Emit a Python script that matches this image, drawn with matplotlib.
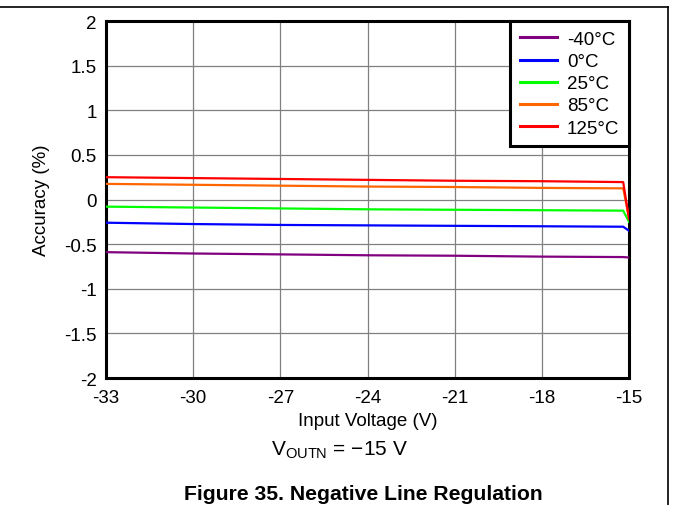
import matplotlib.pyplot as plt
from matplotlib.lines import Line2D

plt.rcParams['font.family'] = ['Liberation Sans', 'DejaVu Sans']

# input voltage (V)
volts = [-33, -30, -27, -24, -21, -18, -15.2, -15]
# accuracy (%) per temperature
acc_m40 = [-0.59, -0.605, -0.615, -0.625, -0.63, -0.64, -0.645, -0.65]
acc_0 = [-0.26, -0.275, -0.285, -0.29, -0.295, -0.30, -0.305, -0.35]
acc_25 = [-0.08, -0.09, -0.10, -0.11, -0.115, -0.12, -0.125, -0.25]
acc_85 = [0.175, 0.165, 0.155, 0.145, 0.14, 0.13, 0.125, -0.20]
acc_125 = [0.25, 0.24, 0.23, 0.22, 0.21, 0.205, 0.195, -0.22]

labels = ['-40°C', '0°C', '25°C', '85°C', '125°C']
colors = ['#800080', '#0000ff', '#00ff00', '#ff6600', '#ff0000']
series = [acc_m40, acc_0, acc_25, acc_85, acc_125]

xticks = [-33, -30, -27, -24, -21, -18, -15]
yticks = [-2, -1.5, -1, -0.5, 0, 0.5, 1, 1.5, 2]

fig = plt.figure(figsize=(6.73, 5.06), dpi=100)
ax = fig.add_axes([106 / 673, 1 - 379 / 506, 523 / 673, 357 / 506])

for ys, c, lab in zip(series, colors, labels):
    ax.plot(volts, ys, color=c, lw=1.6, label=lab, zorder=3)

ax.set_xlim(-33, -15)
ax.set_ylim(-2, 2)
ax.set_xticks(xticks)
ax.set_yticks(yticks)
ax.set_xticklabels([str(v) for v in xticks])
ax.set_yticklabels(['-2', '-1.5', '-1', '-0.5', '0', '0.5', '1', '1.5', '2'])
ax.tick_params(length=0, labelsize=13.5, colors='black')
ax.tick_params(axis='x', pad=8)
ax.tick_params(axis='y', pad=6.5)
ax.grid(True, color='#808080', lw=0.9)
for s in ax.spines.values():
    s.set_linewidth(2.2)
    s.set_color('black')

ax.set_xlabel('Input Voltage (V)', fontsize=13.5)
ax.xaxis.set_label_coords(0.5, (379 - 413) / 357)
ax.set_ylabel('Accuracy (%)', fontsize=13.5)
ax.yaxis.set_label_coords((50 - 106) / 523, 0.5)

leg = ax.legend(loc='upper right', fontsize=13.5, frameon=True, fancybox=False,
                borderaxespad=0, handlelength=1.95, handletextpad=0.55,
                labelspacing=0.27, borderpad=0.52, framealpha=1)
leg.get_frame().set_edgecolor('black')
leg.get_frame().set_linewidth(2.2)
for h in leg.legend_handles:
    h.set_linewidth(2.2)

fig.text(339 / 673, 1 - 450 / 506, 'V$_{\\mathregular{OUTN}}$ = −15 V',
         ha='center', va='center', fontsize=15)
fig.text(363 / 673, 1 - 495 / 506, 'Figure 35. Negative Line Regulation',
         ha='center', va='center', fontsize=15.2, fontweight='bold')

# page frame lines
fig.add_artist(Line2D([0, 668 / 673], [1 - 8 / 506, 1 - 8 / 506], color='black', lw=1.2))
fig.add_artist(Line2D([668 / 673, 668 / 673], [1 - 8 / 506, 0], color='black', lw=1.2))

fig.savefig('out.png', dpi=100)
